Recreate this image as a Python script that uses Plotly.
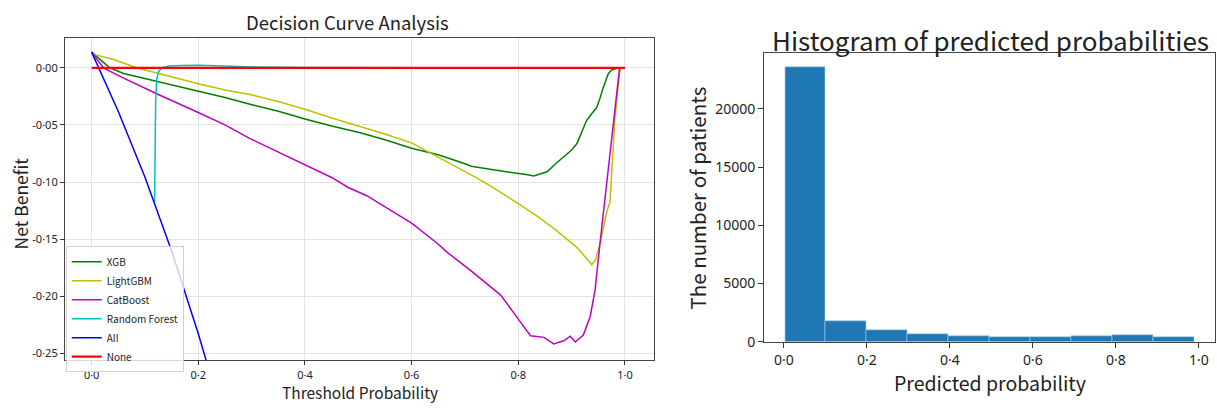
import plotly.graph_objects as go

FONT = "Noto Sans CJK KR"
TICKFONT = "Noto Sans"

# ---- Decision curve data ----
xgb_t = [0.0, 0.02, 0.034, 0.06, 0.1, 0.128, 0.15, 0.2, 0.25, 0.297, 0.35, 0.4, 0.45, 0.5, 0.55, 0.6,
         0.65, 0.7, 0.712, 0.75, 0.78, 0.8, 0.815, 0.829, 0.845, 0.854, 0.87, 0.885, 0.9, 0.91, 0.92,
         0.928, 0.938, 0.947, 0.953, 0.959, 0.969, 0.975, 0.981, 0.988]
xgb_nb = [0.0137, 0.006, 0.0, -0.005, -0.0095, -0.012, -0.015, -0.0206, -0.026, -0.032, -0.038, -0.0448,
          -0.051, -0.0565, -0.063, -0.0705, -0.0762, -0.084, -0.0862, -0.089, -0.091, -0.092, -0.0935,
          -0.0948, -0.0925, -0.091, -0.084, -0.0777, -0.072, -0.0663, -0.056, -0.0462, -0.040, -0.0348,
          -0.027, -0.0177, -0.0049, -0.002, -0.001, 0.0]

lgbm_t = [0.0, 0.04, 0.084, 0.15, 0.2, 0.25, 0.297, 0.35, 0.4, 0.45, 0.5, 0.55, 0.6, 0.631, 0.669,
          0.716, 0.75, 0.785, 0.8, 0.836, 0.873, 0.911, 0.938, 0.945, 0.953, 0.966, 0.972, 0.981,
          0.9895, 0.9925]
lgbm_nb = [0.0122, 0.0075, 0.0, -0.0083, -0.014, -0.0195, -0.0234, -0.0295, -0.0363, -0.044, -0.051,
           -0.058, -0.0657, -0.0734, -0.0828, -0.0948, -0.104, -0.114, -0.119, -0.130, -0.143, -0.1576,
           -0.1724, -0.168, -0.1547, -0.126, -0.1176, -0.046, -0.006, 0.0]

cat_t = [0.0, 0.022, 0.06, 0.125, 0.2, 0.25, 0.297, 0.316, 0.35, 0.4, 0.45, 0.481, 0.516, 0.544, 0.6,
         0.649, 0.668, 0.711, 0.767, 0.8, 0.823, 0.848, 0.8666, 0.885, 0.8975, 0.907, 0.922, 0.935,
         0.944, 0.953, 0.963, 0.976, 0.99]
cat_nb = [0.0137, 0.0, -0.009, -0.0234, -0.0391, -0.050, -0.062, -0.0663, -0.074, -0.0848, -0.096,
          -0.1048, -0.112, -0.12, -0.136, -0.154, -0.162, -0.1776, -0.199, -0.220, -0.2346, -0.236,
          -0.2418, -0.239, -0.235, -0.240, -0.234, -0.2175, -0.1947, -0.1547, -0.112, -0.06, 0.0]

rf_t = [0.118, 0.119, 0.12, 0.122, 0.126, 0.132, 0.145, 0.17, 0.2, 0.25, 0.3, 0.4, 0.5, 0.6, 0.8, 1.0]
rf_nb = [-0.118, -0.08, -0.03, -0.01, -0.003, 0.0, 0.0015, 0.002, 0.0022, 0.0015, 0.0008, 0.0003,
         0.0, 0.0, 0.0, 0.0]

all_t = [0.0, 0.05, 0.1, 0.15, 0.2, 0.22]
all_nb = [0.0137, -0.0382, -0.0959, -0.1604, -0.2329, -0.2645]

none_t = [0.0, 1.0]
none_nb = [0.0, 0.0]

dca_xticks = [0.0, 0.2, 0.4, 0.6, 0.8, 1.0]
dca_xticklabels = ["0·0", "0·2", "0·4", "0·6", "0·8", "1·0"]
dca_yticks = [0.0, -0.05, -0.10, -0.15, -0.20, -0.25]
dca_yticklabels = ["0·00", "-0·05", "-0·10", "-0·15", "-0·20", "-0·25"]

# ---- Histogram data ----
bin_left = [0.0024, 0.1010, 0.1996, 0.2982, 0.3968, 0.4954, 0.5940, 0.6926, 0.7912, 0.8898]
bin_width = 0.0986
counts = [23620, 1780, 990, 620, 480, 395, 424, 450, 565, 395]
hist_xticks = [0.0, 0.2, 0.4, 0.6, 0.8, 1.0]
hist_xticklabels = ["0·0", "0·2", "0·4", "0·6", "0·8", "1·0"]
hist_yticks = [0, 5000, 10000, 15000, 20000]

fig = go.Figure()

series = [
    ("XGB", xgb_t, xgb_nb, "#008000", 1.5),
    ("LightGBM", lgbm_t, lgbm_nb, "#bfbf00", 1.5),
    ("CatBoost", cat_t, cat_nb, "#bf00bf", 1.5),
    ("Random Forest", rf_t, rf_nb, "#00bfbf", 1.5),
    ("All", all_t, all_nb, "#0000ff", 1.5),
    ("None", none_t, none_nb, "#ff0000", 2.2),
]
for name, xs, ys, col, w in series:
    fig.add_trace(go.Scatter(x=xs, y=ys, mode="lines", name=name,
                             line=dict(color=col, width=w), xaxis="x", yaxis="y"))

centers = [l + bin_width / 2 for l in bin_left]
fig.add_trace(go.Bar(x=centers, y=counts, width=[bin_width] * len(counts),
                     marker=dict(color="#1f77b4", line=dict(color="#a8d0ee", width=0.6)),
                     showlegend=False, xaxis="x2", yaxis="y2"))

axis_common = dict(showline=True, linecolor="#444", linewidth=1.2, mirror=True,
                   ticks="outside", tickcolor="#333", zeroline=False)

W, H = 1217, 410


def px(x, y):
    return x / W, 1 - y / H


annotations = []
for text, x, y, size, angle in [
    ("Decision Curve Analysis", 347, 22, 18.5, 0),
    ("Histogram of predicted probabilities", 990, 40, 26, 0),
    ("Threshold Probability", 360, 401, 15.5, 0),
    ("Net Benefit", 20, 208, 17.5, -90),
    ("Predicted probability", 990, 391, 19.5, 0),
    ("The number of patients", 697, 203, 20.5, -90),
]:
    ax, ay = px(x, y)
    annotations.append(dict(text=text, x=ax, y=ay, xref="paper", yref="paper",
                            xanchor="center", yanchor="middle", showarrow=False,
                            textangle=angle, font=dict(size=size, family=FONT)))

fig.update_layout(
    width=W, height=H,
    margin=dict(l=0, r=0, t=0, b=0),
    paper_bgcolor="white", plot_bgcolor="white",
    font=dict(family=FONT, color="#222"),
    bargap=0,
    xaxis=dict(domain=[0.0534, 0.5376], range=[-0.05, 1.055], tickvals=dca_xticks,
               ticktext=dca_xticklabels, showgrid=True, gridcolor="#e3e3e3", ticklen=4,
               tickfont=dict(size=11, family=TICKFONT), anchor="y", **axis_common),
    yaxis=dict(domain=[0.1017, 0.905], range=[-0.256, 0.026], tickvals=dca_yticks,
               ticktext=dca_yticklabels, showgrid=True, gridcolor="#e3e3e3", ticklen=4,
               tickfont=dict(size=11, family=TICKFONT), anchor="x", **axis_common),
    xaxis2=dict(domain=[0.628, 0.998], range=[-0.047, 1.038], tickvals=hist_xticks,
                ticktext=hist_xticklabels, showgrid=False, ticklen=5,
                tickfont=dict(size=14, family=TICKFONT), anchor="y2", **axis_common),
    yaxis2=dict(domain=[0.148, 0.8676], range=[0, 24800], tickvals=hist_yticks,
                ticktext=[str(v) for v in hist_yticks], showgrid=False, ticklen=5,
                tickfont=dict(size=14, family=TICKFONT), anchor="x2", **axis_common),
    legend=dict(x=0.054, y=0.386, xanchor="left", yanchor="top",
                bgcolor="rgba(255,255,255,0.8)", bordercolor="#d0d0d0", borderwidth=1,
                font=dict(size=10, family=FONT), tracegroupgap=0, itemwidth=30),
    annotations=annotations,
)

fig.write_html("out.html", config={"displayModeBar": False},
               post_script="document.body.style.margin='0';document.body.style.overflow='hidden';")
